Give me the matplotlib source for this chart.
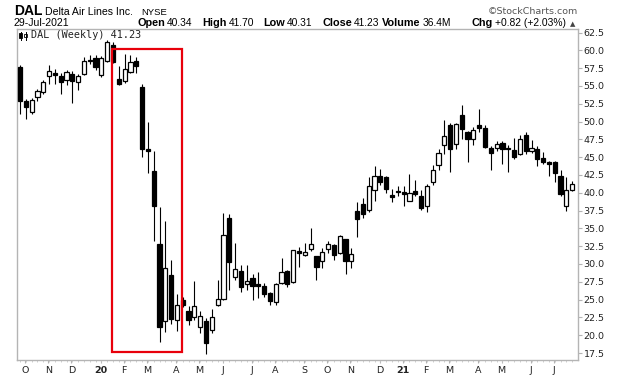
import matplotlib
matplotlib.use("Agg")
import matplotlib.pyplot as plt
from matplotlib.patches import Rectangle
from matplotlib.lines import Line2D
import numpy as np
import pandas as pd

# ---------------- data (weekly candles, DAL) ----------------
start_week = "2019-09-30"
opens = [57.6, 52.9, 51.3, 53.4, 54.15, 56.35, 56.8, 56.35, 55.9, 56.7,
         55.5, 56.7, 58.7, 58.9, 56.6, 58.5, 60.8, 56.0, 55.7, 57.0,
         58.45, 54.8, 46.1, 43.0, 32.8, 22.0, 28.45, 22.2, 24.9, 23.4,
         22.6, 21.1, 22.0, 20.8, 24.3, 25.1, 36.5, 28.2, 29.0, 27.15,
         28.1, 27.15, 26.85, 25.9, 24.7, 27.35, 29.0, 27.5, 31.8, 31.3,
         32.1, 31.1, 30.45, 32.1, 32.65, 31.55, 33.5, 30.45, 37.4, 38.4,
         37.65, 40.45, 42.3, 42.15, 39.65, 40.3, 40.05, 38.9, 40.2, 39.5,
         38.15, 41.45, 43.95, 46.65, 49.5, 46.9, 50.9, 48.55, 47.6, 49.5,
         49.05, 46.35, 46.3, 47.05, 46.25, 46.0, 45.5, 48.1, 45.9, 46.2,
         44.95, 44.3, 44.3, 42.3, 38.15, 40.34]
highs = [57.9, 53.2, 53.3, 54.6, 55.8, 58.0, 57.4, 56.8, 57.3, 57.1,
         56.7, 59.1, 59.4, 59.3, 59.2, 61.4, 61.2, 57.8, 59.5, 59.4,
         59.1, 55.3, 50.0, 45.9, 38.0, 36.0, 30.5, 25.8, 25.3, 24.1,
         27.6, 23.4, 22.45, 23.7, 27.7, 37.2, 37.0, 33.0, 29.8, 29.8,
         28.55, 28.9, 27.3, 26.0, 27.3, 30.8, 29.15, 32.0, 32.45, 33.0,
         35.0, 31.1, 32.2, 33.2, 32.8, 34.1, 33.5, 32.2, 38.65, 39.2,
         42.15, 43.7, 43.4, 42.3, 40.5, 40.9, 40.9, 42.6, 41.8, 40.35,
         41.2, 43.9, 46.1, 50.2, 49.85, 49.8, 52.3, 48.7, 49.25, 51.75,
         49.5, 46.6, 47.3, 47.3, 46.7, 47.7, 48.15, 48.55, 47.4, 46.5,
         45.7, 44.5, 44.4, 43.25, 42.15, 41.70]
lows = [51.1, 50.3, 51.1, 52.9, 53.9, 55.3, 55.3, 53.9, 55.1, 52.6,
        54.4, 56.5, 58.1, 57.3, 56.25, 58.3, 58.2, 55.1, 55.4, 56.8,
        56.8, 45.0, 42.8, 33.25, 19.0, 20.5, 21.6, 20.6, 23.9, 21.5,
        22.2, 20.35, 17.4, 20.35, 24.1, 24.9, 26.3, 27.75, 26.1, 26.3,
        24.9, 25.25, 25.3, 24.3, 24.3, 27.15, 26.8, 27.3, 29.6, 31.1,
        31.85, 27.75, 29.4, 31.6, 30.5, 31.4, 28.6, 29.4, 33.8, 36.4,
        37.3, 38.9, 41.05, 40.0, 38.75, 39.5, 38.1, 38.8, 39.6, 37.55,
        37.3, 41.1, 43.2, 45.5, 42.9, 46.1, 47.6, 44.3, 46.7, 48.55,
        46.3, 43.25, 45.9, 44.0, 42.85, 44.8, 45.3, 45.5, 45.6, 43.7,
        44.0, 42.4, 41.55, 39.5, 37.45, 40.31]
closes = [52.9, 52.05, 53.0, 54.25, 55.6, 57.1, 56.5, 55.55, 56.9, 55.7,
          56.35, 58.55, 58.5, 57.6, 58.9, 61.2, 58.3, 55.3, 57.4, 58.35,
          57.8, 46.1, 45.8, 38.2, 21.2, 29.4, 22.3, 24.3, 24.2, 22.2,
          24.1, 22.7, 18.95, 22.5, 25.1, 34.05, 30.3, 29.3, 26.8, 27.6,
          26.9, 26.9, 25.8, 24.8, 27.15, 28.85, 27.15, 31.9, 31.55, 31.7,
          32.8, 29.6, 31.65, 32.8, 31.25, 33.9, 30.45, 31.4, 36.25, 37.05,
          41.0, 42.3, 41.55, 40.5, 39.4, 40.1, 39.85, 39.9, 39.85, 37.9,
          41.0, 43.25, 45.65, 47.9, 46.1, 49.7, 48.9, 47.6, 48.8, 49.1,
          46.4, 45.6, 46.8, 46.1, 46.1, 45.05, 47.6, 45.85, 46.35, 44.8,
          44.3, 44.05, 42.8, 39.8, 40.35, 41.23]

y_ticks = [17.5, 20.0, 22.5, 25.0, 27.5, 30.0, 32.5, 35.0, 37.5, 40.0,
           42.5, 45.0, 47.5, 50.0, 52.5, 55.0, 57.5, 60.0, 62.5]
month_letters = ["J", "F", "M", "A", "M", "J", "J", "A", "S", "O", "N", "D"]
highlight_weeks = (15.8, 27.8)
highlight_prices = (17.68, 60.14)

# ---------------- figure ----------------
W, H = 620, 376
fig = plt.figure(figsize=(6.2, 3.76), dpi=100)
fig.patch.set_facecolor("white")
L, R, T, B = 16.7, 578.0, 29.3, 360.0
ax = fig.add_axes([L / W, 1 - B / H, (R - L) / W, (B - T) / H])

n = len(opens)
x = np.arange(n)
o = np.array(opens); c = np.array(closes)
h = np.array(highs); lo = np.array(lows)
up = c >= o

ax.vlines(x, lo, h, color="black", lw=0.8, zorder=2)
bottoms = np.minimum(o, c)
heights = np.maximum(np.abs(c - o), 0.08)
ax.bar(x[up], heights[up], bottom=bottoms[up], width=0.72,
       facecolor="white", edgecolor="black", lw=0.9, zorder=3)
ax.bar(x[~up], heights[~up], bottom=bottoms[~up], width=0.72,
       facecolor="black", edgecolor="black", lw=0.9, zorder=3)

ax.add_patch(Rectangle((highlight_weeks[0], highlight_prices[0]),
                       highlight_weeks[1] - highlight_weeks[0],
                       highlight_prices[1] - highlight_prices[0],
                       fill=False, edgecolor="#e8000b", lw=1.6, zorder=5))

ax.set_xlim(-0.57, 96.0)
ax.set_ylim(16.52, 62.95)

for s in ax.spines.values():
    s.set_color("#b4b4b4")
    s.set_linewidth(1.0)

ax.yaxis.tick_right()
ax.set_yticks(y_ticks)
ax.set_yticklabels([f"{v:.1f}" for v in y_ticks], fontsize=6.8,
                   family="DejaVu Sans", color="#222222")
ax.tick_params(axis="y", direction="out", length=3, width=0.8,
               color="#b4b4b4", pad=1)

# month ticks
dates = pd.date_range(start_week, periods=n, freq="7D")
mpos, mlab, mbold = [], [], []
for i in range(1, n):
    if dates[i].month != dates[i - 1].month:
        mpos.append(i - 0.15)
        if dates[i].month == 1:
            mlab.append(str(dates[i].year)[2:])
            mbold.append(True)
        else:
            mlab.append(month_letters[dates[i].month - 1])
            mbold.append(False)
ax.set_xticks(mpos)
ax.set_xticklabels(mlab, fontsize=6.8, family="DejaVu Sans", color="#222222")
for t, b in zip(ax.get_xticklabels(), mbold):
    if b:
        t.set_fontweight("bold")
ax.set_xticks(x, minor=True)
ax.tick_params(axis="x", which="major", direction="out", length=2.5,
               width=0.8, color="#b4b4b4", pad=1.5)
ax.tick_params(axis="x", which="minor", direction="out", length=1.5,
               width=0.6, color="#c8c8c8")

# ---------------- header ----------------
def ftext(px, py, s, **kw):
    return fig.text(px / W, 1 - py / H, s, va="baseline", **kw)

ftext(14, 15, "DAL", fontsize=10, fontweight="bold", family="Liberation Sans")
ftext(45, 15, "Delta Air Lines Inc.", fontsize=7.6, family="Liberation Sans")
ftext(141, 15, "NYSE", fontsize=6.8, family="Liberation Sans")
ftext(578, 14, "\u00a9StockCharts.com", fontsize=6.8, family="DejaVu Sans",
      color="#555555", ha="right")
ftext(14, 26.5, "29-Jul-2021", fontsize=7.6, family="Liberation Sans")

renderer = fig.canvas.get_renderer()
header_items = [(137, "Open", "40.34"), (202, "High", "41.70"),
                (263, "Low", "40.31"), (322, "Close", "41.23"),
                (382, "Volume", "36.4M"), (472, "Chg", "+0.82 (+2.03%)")]
for px, lab, val in header_items:
    t = ftext(px, 26.5, lab, fontsize=7.8, fontweight="bold",
              family="Liberation Sans")
    wpx = t.get_window_extent(renderer).width
    ftext(px + wpx + 2, 26.5, val, fontsize=7.4, family="Liberation Sans")
ftext(570, 26, "\u25b2", fontsize=5, family="DejaVu Sans", color="#444444")

# legend inside plot
ftext(31, 38.5, "DAL (Weekly) 41.23", fontsize=7.3, family="DejaVu Sans Mono",
      color="#222222")
for (cx, y0, y1, b0, b1, fill) in [(21, 31.5, 39.5, 33, 38, "black"),
                                   (25.5, 31.5, 39.5, 33.5, 37, "white")]:
    fig.add_artist(Line2D([cx / W, cx / W], [1 - y0 / H, 1 - y1 / H],
                          color="black", lw=0.7, transform=fig.transFigure))
    fig.add_artist(Rectangle(((cx - 1.5) / W, 1 - b1 / H), 3 / W, (b1 - b0) / H,
                             facecolor=fill, edgecolor="black", lw=0.6,
                             transform=fig.transFigure))

fig.savefig("out.png", dpi=100, facecolor="white")
